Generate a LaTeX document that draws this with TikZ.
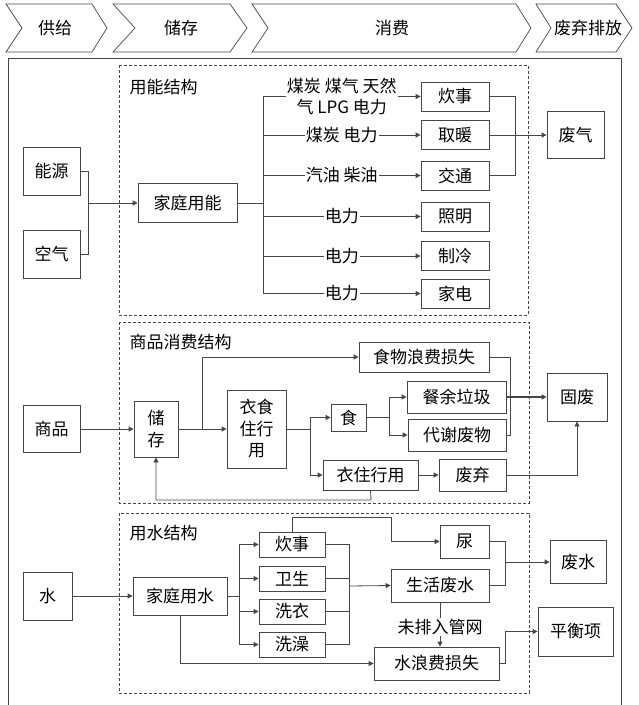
\documentclass[tikz,border=0pt]{standalone}
\usepackage{fontspec}
\setmainfont{Noto Sans CJK SC}
\usetikzlibrary{arrows.meta,calc}
\definecolor{lineg}{RGB}{70,70,70}

\begin{document}
\begin{tikzpicture}[x=1pt,y=-1pt,
  box/.style={draw=lineg,line width=0.8pt,inner sep=0pt,align=center,
    font=\fontsize{17}{21.5}\selectfont},
  lbl/.style={fill=white,inner sep=1pt,align=center,
    font=\fontsize{17}{21}\selectfont},
  link/.style={draw=lineg,line width=0.8pt},
  arr/.style={link,-{Triangle[length=5pt,width=5pt]}},
  sect/.style={draw=lineg,line width=0.7pt,dash pattern=on 3pt off 2pt}]
\useasboundingbox (0,0) rectangle (639,705);

% stage chevrons along the top
\foreach \a/\b/\c/\d/\m/\t in {6/22/92/107/55/供给, 113/135/230/247/181/储存,
    252/268/516/531/392/消费, 536/551/616/632/588/废弃排放}{
  \draw[lineg,line width=0.7pt] (\a,4) -- (\c,4) -- (\d,28) -- (\c,52) -- (\a,52)
    -- (\b,28) -- cycle;
  \node[font=\fontsize{17}{20}\selectfont] (hd\m) at (\m,28) {\t};
}
% outer frame, open at the bottom
\draw[lineg,line width=0.7pt] (8,705) -- (8,58) -- (621,58) -- (621,705);

% the three dashed blocks
\draw[sect] (119,65) rectangle (528,315);
\draw[sect] (119,322) rectangle (529,503);
\draw[sect] (119,513) rectangle (529,693);
\node[anchor=west,font=\fontsize{17}{20}\selectfont] (tnl) at (126,87) {用能结构};
\node[anchor=west,font=\fontsize{17}{20}\selectfont] (tsp) at (126,342) {商品消费结构};
\node[anchor=west,font=\fontsize{17}{20}\selectfont] (tsy) at (126,533) {用水结构};

% ---- energy ----
\node[box,minimum width=57,minimum height=48] (nengyuan) at (51.5,171) {能源};
\node[box,minimum width=57,minimum height=48] (kongqi) at (51.5,254) {空气};
\node[box,minimum width=99,minimum height=39] (jtyn) at (187.5,203) {家庭用能};
\coordinate (ej) at (88,203);
\draw[link] (nengyuan.east) -| (ej);
\draw[link] (kongqi.east) -| (ej);
\draw[arr] (ej) -- (jtyn.west);
\coordinate (et) at (263,203);
\draw[link] (jtyn.east) -- (et);

\node[box,minimum width=68,minimum height=29] (cuishi) at (455,96.5) {炊事};
\coordinate (tcuishi) at (263,96.5);
\draw[arr] (tcuishi) -- node[lbl]{煤炭 煤气 天然\\气 LPG 电力} (cuishi.west);
\foreach \n/\y/\t/\f in {qunuan/135/取暖/煤炭 电力, jiaotong/175.5/交通/汽油 柴油,
    zhaoming/216.5/照明/电力, zhileng/256/制冷/电力, jiadian/293.5/家电/电力}{
  \node[box,minimum width=68,minimum height=29] (\n) at (455,\y) {\t};
  \coordinate (t\n) at (263,\y);
  \draw[arr] (t\n) -- node[lbl]{\f} (\n.west);
}
\draw[link] (tcuishi) -- (tjiadian);

\node[box,minimum width=57,minimum height=47] (feiqi) at (575.5,135) {废气};
\coordinate (gj) at (515,135);
\draw[link] (cuishi.east) -| (gj);
\draw[link] (jiaotong.east) -| (gj);
\draw[arr] (qunuan.east) -- (feiqi.west);

% ---- goods ----
\node[box,minimum width=57,minimum height=47] (shangpin) at (51.5,429) {商品};
\node[box,minimum width=44,minimum height=56] (chucun) at (156,429) {储\\存};
\node[box,minimum width=59,minimum height=78] (yishi) at (256.5,429) {衣食\\住行\\用};
\draw[arr] (shangpin) -- (chucun);
\draw[arr] (chucun) -- (yishi);
\node[box,minimum width=130,minimum height=30] (shiwu) at (424,357) {食物浪费损失};
\coordinate (sj) at (202,429);
\draw[arr] (sj) |- (shiwu.west);

\node[box,minimum width=35,minimum height=27] (shi) at (348.5,417.5) {食};
\node[box,minimum width=95,minimum height=30] (yizhu) at (370.5,475) {衣住行用};
\coordinate (yj) at (310,429);
\draw[link] (yishi.east) -- (yj);
\draw[arr] (yj) |- (shi.west);
\draw[arr] (yj) |- (yizhu.west);

\node[box,minimum width=99,minimum height=32] (canyu) at (456.5,397) {餐余垃圾};
\node[box,minimum width=98,minimum height=32] (daixie) at (457,435) {代谢废物};
\coordinate (cj) at (389,417.5);
\draw[link] (shi.east) -- (cj);
\draw[arr] (cj) |- (canyu.west);
\draw[arr] (cj) |- (daixie.west);

\node[box,minimum width=67,minimum height=32] (qizhi) at (472.5,475) {废弃};
\draw[arr] (yizhu.east) -- (qizhi.west);
\node[box,minimum width=60,minimum height=48] (gufei) at (577,397) {固废};
\coordinate (fj) at (510,397);
\draw[link] (shiwu.east) -| (fj);
\draw[link] (daixie.east) -| (fj);
\draw[arr,line width=1.3pt] (canyu.east) -- (gufei.west);
\draw[arr] (qizhi.east) -| (gufei.south);
% back to storage
\coordinate (lb) at (371,500);
\draw[arr] (yizhu.south) -- (lb) -| (chucun.south);

% ---- water ----
\node[box,minimum width=49,minimum height=48] (shui) at (47.5,596) {水};
\node[box,minimum width=94,minimum height=38] (jtys) at (180,596) {家庭用水};
\draw[arr] (shui) -- (jtys);
\coordinate (wj) at (239,596);
\coordinate (rj) at (349,586);
\draw[link] (jtys.east) -- (wj);
\foreach \n/\y/\t in {ws1/544.5/炊事, ws2/578.5/卫生, ws3/611.5/洗衣, ws4/644.5/洗澡}{
  \node[box,minimum width=66,minimum height=25] (\n) at (292,\y) {\t};
  \draw[arr] (wj) |- (\n.west);
  \draw[link] (\n.east) -| (rj);
}
\node[box,minimum width=98,minimum height=33] (shwf) at (440,585.5) {生活废水};
\draw[arr] (rj) -- (shwf.west);

\node[box,minimum width=49,minimum height=33] (niao) at (464.5,541.5) {尿};
\coordinate (u2) at (391,517);
\draw[arr] (ws1.north) |- (u2) |- (niao.west);

\node[box,minimum width=56,minimum height=43] (feishui) at (578,562) {废水};
\coordinate (nj) at (505,562);
\draw[link] (niao.east) -| (nj);
\draw[link] (shwf.east) -| (nj);
\draw[arr] (nj) -- (feishui.west);

\node[box,minimum width=125,minimum height=33] (shuilang) at (436.5,663.5) {水浪费损失};
\draw[arr] (shwf.south) -- node[lbl,pos=0.55]{未排入管网} (shwf.south |- shuilang.north);
\draw[arr] (jtys.south) |- (shuilang.west);

\node[box,minimum width=75,minimum height=49] (pingheng) at (575.5,631.5) {平衡项};
\coordinate (pj) at (505,631.5);
\draw[link] (shuilang.east) -| (pj);
\draw[arr] (pj) -- (pingheng.west);
\end{tikzpicture}
\end{document}
